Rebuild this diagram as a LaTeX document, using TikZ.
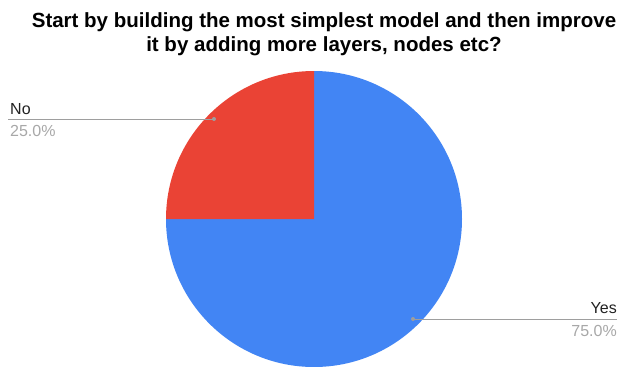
\documentclass[tikz,border=0pt]{standalone}
\usepackage{fontspec}
\setmainfont{Liberation Sans}
\definecolor{pieblue}{HTML}{4285F4}
\definecolor{piered}{HTML}{EA4335}
\definecolor{leadgray}{HTML}{9E9E9E}
\definecolor{pctgray}{HTML}{A8A8A8}
\definecolor{labblack}{HTML}{222222}
\begin{document}
\begin{tikzpicture}[x=1pt,y=-1pt,
  lead/.style={draw=leadgray,line width=1pt},
  dot/.style={circle,fill=leadgray,inner sep=0pt,minimum size=4pt},
  lab/.style={inner sep=0pt,font=\fontsize{16}{18}\selectfont,text=labblack},
  pct/.style={inner sep=0pt,font=\fontsize{16}{18}\selectfont,text=pctgray}]
\useasboundingbox (0,0) rectangle (619,367);
\fill[white] (0,0) rectangle (619,367);
% title
\node[inner sep=0pt,align=center,font=\bfseries\fontsize{20.5}{24}\selectfont] (title) at (324,34)
  {Start by building the most simplest model and then improve\\it by adding more layers, nodes etc?};
% pie
\coordinate (c) at (314,219);
\fill[pieblue] (c) -- (314,71) arc[start angle=90,end angle=-180,x radius=148,y radius=-148] -- cycle;
\fill[piered] (c) -- (314,71) arc[start angle=90,end angle=180,x radius=148,y radius=-148] -- cycle;
% No label
\node[dot] (dno) at (214,119) {};
\coordinate (lno) at (8,119);
\draw[lead] (dno.center) -- (lno);
\node[lab,anchor=base west] (no) at (10,114) {No};
\node[pct,anchor=base west] (pno) at (10,136) {25.0\%};
% Yes label
\node[dot] (dyes) at (413,319) {};
\coordinate (lyes) at (617,319);
\draw[lead] (dyes.center) -- (lyes);
\node[lab,anchor=base east] (yes) at (617,313) {Yes};
\node[pct,anchor=base east] (pyes) at (617,336) {75.0\%};
\end{tikzpicture}
\end{document}
